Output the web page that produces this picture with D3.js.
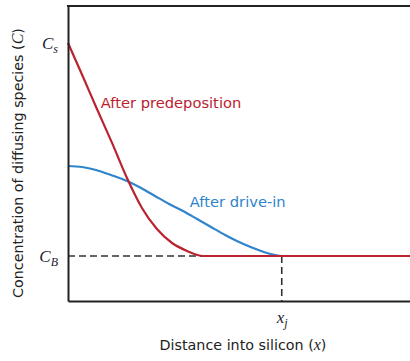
<!DOCTYPE html>
<html>
<head>
<meta charset="utf-8">
<script src="https://cdn.jsdelivr.net/npm/d3@7"></script>
<style>
  html, body { margin: 0; padding: 0; background: #fff; }
  svg { display: block; }
  .math { font-family: "Liberation Serif", "DejaVu Serif", serif; font-style: italic; }
  .lbl { font-family: "DejaVu Sans", "Open Sans", sans-serif; }
</style>
</head>
<body>
<svg id="chart" width="410" height="361"></svg>
<script>
// Distance into silicon, in units of the junction depth x_j
const distance = [0, 0.070, 0.136, 0.206, 0.276, 0.346, 0.416, 0.487, 0.557, 0.632, 1.0, 1.6];
// Concentration profile after predeposition (erfc-like)
const predeposition = [87.46, 76.0, 65.0, 53.6, 41.69, 31.53, 24.41, 19.66, 16.95, 15.25, 15.25, 15.25];
// Distance samples for the profile after drive-in
const driveDistance = [0, 0.066, 0.131, 0.201, 0.276, 0.342, 0.407, 0.473, 0.538, 0.604, 0.669, 0.735, 0.800, 0.866, 0.931, 1.0, 1.6];
// Concentration profile after drive-in (Gaussian-like)
const driveIn = [45.76, 45.42, 44.41, 42.71, 40.68, 38.31, 35.59, 32.88, 30.51, 27.80, 25.08, 22.37, 20.0, 17.97, 16.27, 15.25, 15.25];

// Named levels and their tick labels
const surfaceConc = 87.46;    // C_s
const backgroundConc = 15.25; // C_B
const junctionDepth = 1.0;    // x_j
const yTickLabels = [{ base: "C", sub: "s", value: surfaceConc }, { base: "C", sub: "B", value: backgroundConc }];
const xTickLabels = [{ base: "x", sub: "j", value: junctionDepth }];

const seriesLabels = ["After predeposition", "After drive-in"];

const svg = d3.select("#chart");
const margin = { left: 68, top: 6, right: 0, bottom: 60 };
const W = 410, H = 361;

const x = d3.scaleLinear().domain([0, 1.6]).range([margin.left, W - margin.right]);
const y = d3.scaleLinear().domain([0, 100]).range([H - margin.bottom, margin.top]);

const red = "#bb2230";
const blue = "#2f84cc";
const ink = "#222";

// Background concentration dashed reference line and junction marker
svg.append("line")
  .attr("x1", x(0)).attr("x2", x(1.6))
  .attr("y1", y(backgroundConc)).attr("y2", y(backgroundConc))
  .attr("stroke", "#333").attr("stroke-width", 1.6)
  .attr("stroke-dasharray", "7,4");
svg.append("line")
  .attr("x1", x(junctionDepth)).attr("x2", x(junctionDepth))
  .attr("y1", y(backgroundConc)).attr("y2", y(0))
  .attr("stroke", "#333").attr("stroke-width", 1.6)
  .attr("stroke-dasharray", "7,4");

const line = d3.line().curve(d3.curveMonotoneX);

svg.append("path")
  .attr("d", line(driveDistance.map((d, i) => [x(d), y(driveIn[i])])))
  .attr("fill", "none").attr("stroke", blue).attr("stroke-width", 2.2);

svg.append("path")
  .attr("d", line(distance.map((d, i) => [x(d), y(predeposition[i])])))
  .attr("fill", "none").attr("stroke", red).attr("stroke-width", 2.2);

// Frame: left and bottom axes plus top edge
const yAxis = d3.axisLeft(y).tickValues(yTickLabels.map(d => d.value)).tickSize(0).tickSizeOuter(0).tickPadding(8).tickFormat("");
const xAxis = d3.axisBottom(x).tickValues(xTickLabels.map(d => d.value)).tickSize(0).tickSizeOuter(0).tickPadding(10).tickFormat("");

const gy = svg.append("g").attr("transform", `translate(${x(0)},0)`).call(yAxis);
const gx = svg.append("g").attr("transform", `translate(0,${y(0)})`).call(xAxis);
[gy, gx].forEach(g => g.select(".domain").attr("stroke", ink).attr("stroke-width", 2));

svg.append("line")
  .attr("x1", x(0) - 1).attr("x2", x(1.6))
  .attr("y1", y(100)).attr("y2", y(100))
  .attr("stroke", ink).attr("stroke-width", 2);

// Tick labels with subscripts
function subscripted(sel) {
  sel.attr("class", "math")
    .attr("font-size", 17).attr("fill", "#1c1c30")
    .each(function (d) {
      const t = d3.select(this).text(null);
      t.append("tspan").text(d.base);
      t.append("tspan").attr("font-size", 12).attr("dy", 4).text(d.sub);
    });
}
gy.selectAll(".tick text").data(yTickLabels).attr("dx", -2).call(subscripted);
gx.selectAll(".tick text").data(xTickLabels).call(subscripted);

// Series labels
svg.append("text")
  .attr("class", "lbl")
  .attr("x", x(0.153)).attr("y", y(65.3))
  .attr("font-size", 14.7).attr("fill", red)
  .text(seriesLabels[0]);

svg.append("text")
  .attr("class", "lbl")
  .attr("x", x(0.57)).attr("y", y(32))
  .attr("font-size", 14.7).attr("fill", blue)
  .text(seriesLabels[1]);

// Axis titles
const xTitle = svg.append("text")
  .attr("class", "lbl")
  .attr("x", 243).attr("y", 350)
  .attr("text-anchor", "middle")
  .attr("font-size", 14.3).attr("fill", ink);
xTitle.append("tspan").text("Distance into silicon (");
xTitle.append("tspan").attr("class", "math").attr("font-size", 16).text("x");
xTitle.append("tspan").text(")");

const yTitle = svg.append("text")
  .attr("class", "lbl")
  .attr("transform", "translate(23,163) rotate(-90)")
  .attr("text-anchor", "middle")
  .attr("font-size", 14.3).attr("fill", ink);
yTitle.append("tspan").text("Concentration of diffusing species (");
yTitle.append("tspan").attr("class", "math").attr("font-size", 16).text("C");
yTitle.append("tspan").text(")");
</script>
</body>
</html>
